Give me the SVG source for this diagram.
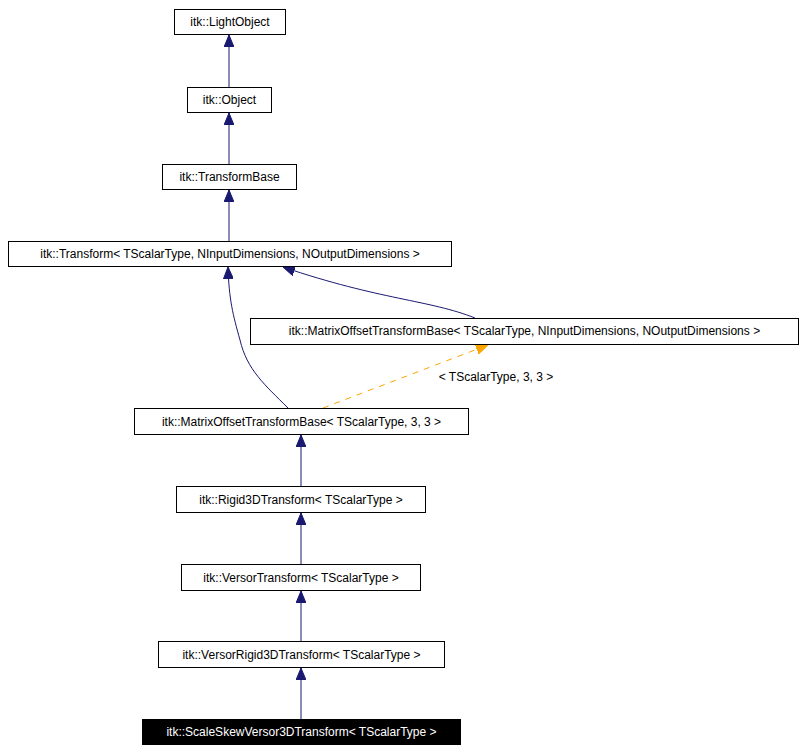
<svg xmlns="http://www.w3.org/2000/svg" width="804" height="751" viewBox="0 0 804 751">
<style>
.n rect{fill:#fff;stroke:#000;stroke-width:1}
text{font-family:"Liberation Sans",Arial,sans-serif;font-size:12px;text-anchor:middle}
.e{fill:none;stroke:#191970;stroke-width:1}
.o{fill:none;stroke:#ffa500;stroke-width:1;stroke-dasharray:6,6}
</style>
<defs>
<marker id="a" viewBox="0 0 12 10" refX="12" refY="5" markerWidth="12" markerHeight="10" markerUnits="userSpaceOnUse" orient="auto"><path d="M0,0L12,5L0,10z" fill="#191970" stroke="#191970"/></marker>
<marker id="b" viewBox="0 0 12 10" refX="12" refY="5" markerWidth="12" markerHeight="10" markerUnits="userSpaceOnUse" orient="auto"><path d="M0,0L12,5L0,10z" fill="#ffa500" stroke="#ffa500"/></marker>
</defs>
<rect width="804" height="751" fill="#fff"/>
<g id="connectors">
<path class="e" d="M229,87V35" marker-end="url(#a)"/>
<path class="e" d="M229,164V113" marker-end="url(#a)"/>
<path class="e" d="M229,241V190" marker-end="url(#a)"/>
<path class="e" d="M475,318C430,300 380,300 283,267" marker-end="url(#a)"/>
<path class="e" d="M288,408C265,385 247,370 240,340C233,315 229,300 228,267" marker-end="url(#a)"/>
<path class="o" d="M323,408L488,345" marker-end="url(#b)"/>
<text x="496" y="381">&lt; TScalarType, 3, 3 &gt;</text>
<path class="e" d="M301,486V435" marker-end="url(#a)"/>
<path class="e" d="M301,564V513" marker-end="url(#a)"/>
<path class="e" d="M301,641V591" marker-end="url(#a)"/>
<path class="e" d="M301,719V668" marker-end="url(#a)"/>
</g>
<g id="n1" class="n"><rect x="174.5" y="9.5" width="111" height="25"/><text x="230" y="26">itk::LightObject</text></g>
<g id="n2" class="n"><rect x="187.5" y="87.5" width="84" height="25"/><text x="229.5" y="104">itk::Object</text></g>
<g id="n3" class="n"><rect x="162.5" y="164.5" width="134" height="25"/><text x="229.5" y="181">itk::TransformBase</text></g>
<g id="n4" class="n"><rect x="8.5" y="241.5" width="443" height="25"/><text x="230" y="258">itk::Transform&lt; TScalarType, NInputDimensions, NOutputDimensions &gt;</text></g>
<g id="n5" class="n"><rect x="250.5" y="318.5" width="548" height="26"/><text x="524.5" y="335">itk::MatrixOffsetTransformBase&lt; TScalarType, NInputDimensions, NOutputDimensions &gt;</text></g>
<g id="n6" class="n"><rect x="134.5" y="408.5" width="334" height="26"/><text x="301.5" y="426">itk::MatrixOffsetTransformBase&lt; TScalarType, 3, 3 &gt;</text></g>
<g id="n7" class="n"><rect x="176.5" y="486.5" width="249" height="26"/><text x="301" y="504">itk::Rigid3DTransform&lt; TScalarType &gt;</text></g>
<g id="n8" class="n"><rect x="181.5" y="564.5" width="239" height="26"/><text x="301" y="582">itk::VersorTransform&lt; TScalarType &gt;</text></g>
<g id="n9" class="n"><rect x="158.5" y="641.5" width="286" height="26"/><text x="301.5" y="659">itk::VersorRigid3DTransform&lt; TScalarType &gt;</text></g>
<g id="n10"><rect x="142.5" y="719.5" width="318" height="25" fill="#000" stroke="#000"/><text x="301.5" y="736" fill="#fff">itk::ScaleSkewVersor3DTransform&lt; TScalarType &gt;</text></g>
</svg>
